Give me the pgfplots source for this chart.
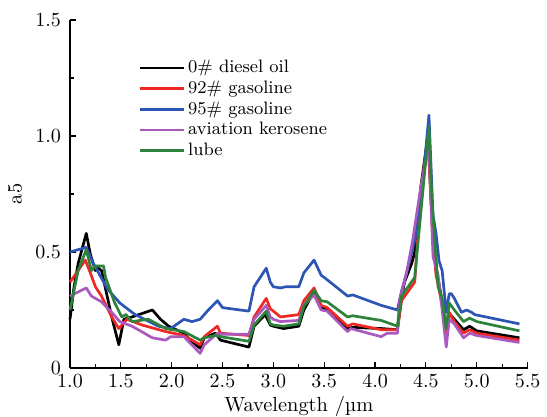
\documentclass[border=0pt]{standalone}
\usepackage{pgfplots}
\pgfplotsset{compat=1.18}

\definecolor{cBlack}{RGB}{0,0,0}
\definecolor{cRed}{RGB}{240,40,35}
\definecolor{cBlue}{RGB}{45,85,180}
\definecolor{cPurple}{RGB}{170,90,190}
\definecolor{cGreen}{RGB}{45,130,60}
\tikzset{curve/.style={line width=1.35pt, line join=round, #1}}

\begin{document}
\begin{tikzpicture}
\begin{axis}[
    scale only axis,
    width=228.8pt, height=174pt,
    xmin=1.0, xmax=5.5, ymin=0, ymax=1.5,
    axis lines=left,
    axis line style={-, line width=0.6pt},
    tick align=inside,
    major tick length=3pt, minor tick length=1.8pt,
    tick style={line width=0.6pt, black},
    xtick={1.0,1.5,...,5.5},
    minor x tick num=1,
    ytick={0,0.5,1.0,1.5},
    yticklabels={0,0.5,1.0,1.5},
    minor y tick num=1,
    xticklabel style={/pgf/number format/.cd, fixed, fixed zerofill, precision=1},
    tick label style={font=\fontsize{10}{11}\selectfont},
    yticklabel style={xshift=-1pt},
    label style={font=\fontsize{10.2}{11}\selectfont},
    xlabel={Wavelength /µm},
    ylabel={a5},
    xlabel style={at={(rel axis cs:0.5,-0.109)}, anchor=center, inner sep=0pt},
    ylabel style={at={(rel axis cs:-0.12,0.5)}, anchor=center, inner sep=0pt},
    clip=false,
    legend style={draw=none, fill=none, at={(rel axis cs:0.15,0.895)}, anchor=north west,
        font=\fontsize{9}{10}\selectfont, row sep=-0.6pt, inner sep=0pt,
        nodes={inner sep=1.6pt}},
    legend cell align=left,
    legend image code/.code={\draw[#1] (0cm,0cm) -- (0.76cm,0cm);},
]
\addplot[curve=cBlack] coordinates {
(1.00,0.21)(1.04,0.35)(1.08,0.45)(1.16,0.58)(1.20,0.49)(1.25,0.42)(1.28,0.43)(1.31,0.42)
(1.41,0.22)(1.48,0.10)(1.53,0.21)(1.61,0.22)(1.81,0.25)(1.89,0.21)(1.97,0.18)(2.12,0.15)
(2.18,0.12)(2.28,0.085)(2.32,0.13)(2.43,0.15)(2.48,0.12)(2.76,0.09)(2.81,0.18)(2.92,0.23)
(2.97,0.185)(3.00,0.18)(3.10,0.17)(3.25,0.18)(3.30,0.25)(3.40,0.33)(3.47,0.265)(3.53,0.25)
(3.73,0.17)(3.78,0.175)(4.06,0.17)(4.22,0.165)(4.26,0.30)(4.29,0.37)(4.36,0.45)(4.39,0.50)
(4.45,0.78)(4.52,1.00)(4.56,0.65)(4.60,0.42)(4.63,0.36)(4.67,0.26)(4.70,0.15)(4.73,0.235)
(4.78,0.21)(4.87,0.165)(4.93,0.18)(5.00,0.16)(5.42,0.13)};
\addlegendentry{0\# diesel oil}
\addplot[curve=cRed] coordinates {
(1.00,0.37)(1.08,0.42)(1.15,0.465)(1.20,0.41)(1.25,0.35)(1.31,0.31)(1.41,0.22)(1.48,0.17)
(1.56,0.21)(1.71,0.185)(1.94,0.157)(2.12,0.14)(2.28,0.10)(2.32,0.135)(2.45,0.18)(2.48,0.15)
(2.76,0.14)(2.81,0.22)(2.93,0.30)(2.97,0.255)(3.00,0.245)(3.07,0.22)(3.25,0.23)(3.30,0.29)
(3.40,0.345)(3.47,0.27)(3.53,0.26)(3.73,0.18)(3.78,0.19)(4.06,0.165)(4.22,0.165)(4.26,0.29)
(4.39,0.37)(4.45,0.75)(4.52,1.00)(4.56,0.62)(4.60,0.40)(4.63,0.34)(4.67,0.24)(4.70,0.13)
(4.73,0.24)(4.78,0.20)(4.87,0.15)(4.93,0.165)(5.00,0.15)(5.42,0.12)};
\addlegendentry{92\# gasoline}
\addplot[curve=cBlue] coordinates {
(1.00,0.50)(1.16,0.52)(1.23,0.45)(1.37,0.34)(1.49,0.28)(1.64,0.23)(1.87,0.18)(1.99,0.17)
(2.12,0.21)(2.20,0.20)(2.28,0.21)(2.35,0.245)(2.45,0.29)(2.50,0.26)(2.76,0.245)(2.81,0.35)
(2.93,0.43)(2.97,0.37)(3.00,0.35)(3.07,0.345)(3.12,0.35)(3.25,0.35)(3.30,0.41)(3.40,0.465)
(3.47,0.40)(3.53,0.38)(3.73,0.31)(3.78,0.315)(4.06,0.27)(4.22,0.25)(4.26,0.33)(4.31,0.41)
(4.39,0.55)(4.47,0.80)(4.53,1.09)(4.57,0.66)(4.60,0.58)(4.63,0.46)(4.66,0.42)(4.70,0.24)
(4.73,0.32)(4.75,0.32)(4.78,0.30)(4.85,0.24)(4.90,0.25)(4.95,0.24)(4.98,0.23)(5.42,0.19)};
\addlegendentry{95\# gasoline}
\addplot[curve=cPurple] coordinates {
(1.00,0.31)(1.16,0.345)(1.21,0.31)(1.31,0.285)(1.41,0.24)(1.49,0.20)(1.61,0.18)(1.81,0.13)
(1.94,0.12)(1.99,0.135)(2.12,0.135)(2.28,0.063)(2.32,0.10)(2.45,0.15)(2.48,0.145)(2.76,0.145)
(2.81,0.21)(2.93,0.27)(2.97,0.22)(3.00,0.21)(3.07,0.20)(3.25,0.205)(3.30,0.27)(3.40,0.315)
(3.47,0.25)(3.53,0.245)(3.73,0.157)(3.76,0.17)(4.06,0.135)(4.12,0.15)(4.22,0.15)(4.24,0.29)
(4.31,0.41)(4.37,0.55)(4.45,0.78)(4.53,0.96)(4.57,0.48)(4.62,0.40)(4.66,0.25)(4.70,0.09)
(4.73,0.21)(4.78,0.19)(4.87,0.13)(4.93,0.15)(5.00,0.14)(5.42,0.11)};
\addlegendentry{aviation kerosene}
\addplot[curve=cGreen] coordinates {
(1.00,0.25)(1.08,0.42)(1.16,0.51)(1.21,0.42)(1.25,0.44)(1.33,0.44)(1.35,0.39)(1.44,0.28)
(1.51,0.22)(1.55,0.23)(1.61,0.20)(1.77,0.21)(1.94,0.17)(2.12,0.157)(2.28,0.12)(2.32,0.13)
(2.43,0.14)(2.48,0.135)(2.76,0.115)(2.81,0.185)(2.93,0.245)(2.97,0.19)(3.00,0.185)(3.10,0.18)
(3.25,0.19)(3.30,0.265)(3.40,0.335)(3.47,0.29)(3.53,0.285)(3.73,0.22)(3.78,0.225)(4.06,0.205)
(4.22,0.18)(4.26,0.31)(4.39,0.39)(4.53,1.04)(4.56,0.72)(4.62,0.35)(4.66,0.30)(4.70,0.17)
(4.73,0.28)(4.78,0.25)(4.87,0.20)(4.93,0.215)(5.00,0.20)(5.42,0.16)};
\addlegendentry{lube}
\path (rel axis cs:-0.153,-0.138) rectangle (rel axis cs:1.042,1.0575);
\end{axis}
\end{tikzpicture}
\end{document}
